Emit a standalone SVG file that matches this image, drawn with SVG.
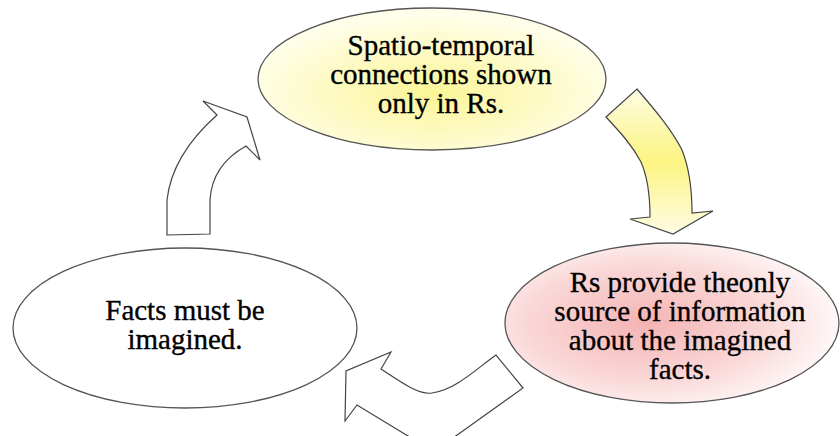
<svg xmlns="http://www.w3.org/2000/svg" width="840" height="436" viewBox="0 0 840 436">
<style>
.node{stroke:#555;stroke-width:1.3}
.arrow{stroke:#444;stroke-width:1.2;stroke-linejoin:miter}
text{font-family:'Liberation Serif','Times New Roman','DejaVu Serif',serif;font-size:29px;fill:#000;stroke:#000;stroke-width:0.35;text-anchor:middle}
</style>
<defs>
<radialGradient id="gYellow" cx="0.5" cy="0.6" r="0.55">
<stop offset="0" stop-color="#fbf597"/>
<stop offset="1" stop-color="#fffeea"/>
</radialGradient>
<radialGradient id="gPink" cx="0.42" cy="0.5" r="0.6">
<stop offset="0" stop-color="#f5b3b3"/>
<stop offset="0.6" stop-color="#fad8d8"/>
<stop offset="1" stop-color="#fffafa"/>
</radialGradient>
<linearGradient id="gArrow" x1="0" y1="0" x2="0" y2="1">
<stop offset="0" stop-color="#fefde4"/>
<stop offset="0.5" stop-color="#fcf482"/>
<stop offset="1" stop-color="#fefce4"/>
</linearGradient>
</defs>
<rect width="840" height="436" fill="#fff"/>
<g id="connectors">
<path class="arrow" fill="url(#gArrow)" d="M606,117 L637,89 C655,110 672,130 682,150 C690,170 692,190 692,213 L713,211 L673,234 L630,219 L650,217 C650,195 648,178 641,162 C632,145 620,132 606,117 Z"/>
<path class="arrow" fill="#fff" d="M381,369 C405,385 420,395 432,393 C455,390 475,370 496,355 L523,388 L460,433 Q435,452 408,436 L357,405 L345,421 L346,371 L391,352 Z"/>
<path class="arrow" fill="#fff" d="M167,235 L210,234 L210,200 Q212,165 246,146 L260,160 L247,117 L203,101 L217,115 Q172,155 167,200 Z"/>
</g>
<g id="node-top">
<ellipse class="node" cx="432" cy="79" rx="174" ry="71" fill="url(#gYellow)"/>
<text x="441" y="55">Spatio-temporal</text>
<text x="441" y="84">connections shown</text>
<text x="441" y="113">only in Rs.</text>
</g>
<g id="node-right">
<ellipse class="node" cx="672" cy="323" rx="167" ry="80" fill="url(#gPink)"/>
<text x="680" y="292">Rs provide theonly</text>
<text x="680" y="321">source of information</text>
<text x="680" y="350">about the imagined</text>
<text x="680" y="379">facts.</text>
</g>
<g id="node-left">
<ellipse class="node" cx="185" cy="328" rx="172" ry="80" fill="#fff"/>
<text x="185" y="320">Facts must be</text>
<text x="185" y="349">imagined.</text>
</g>
</svg>
